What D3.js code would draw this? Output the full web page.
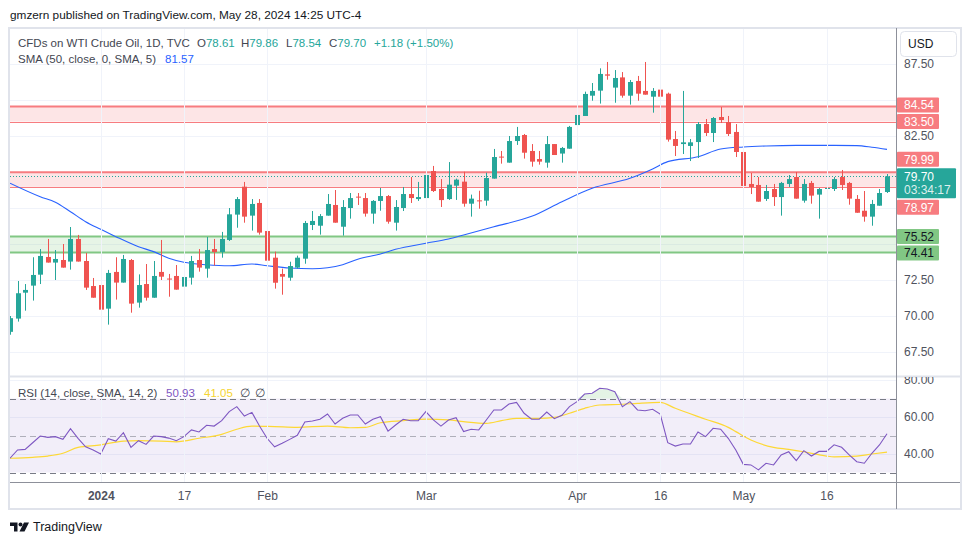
<!DOCTYPE html>
<html><head><meta charset="utf-8">
<script src="https://cdn.jsdelivr.net/npm/d3@7"></script>
<style>
body{margin:0;background:#fff}
svg{display:block}
text{font-family:"Liberation Sans",Arial,sans-serif}
</style>
</head><body>
<svg id="c" width="970" height="545"></svg>
<script>
// ---------------- DATA ----------------
const opens = [68.90,69.82,71.62,72.11,72.87,74.10,73.71,73.89,73.78,75.35,73.82,72.08,72.15,70.51,73.06,72.32,73.89,70.93,72.22,71.27,
73.06,72.60,72.78,72.04,72.66,73.89,73.29,74.65,74.44,75.28,77.04,78.98,76.97,77.85,75.90,74.05,72.92,72.66,73.36,73.98,
76.32,76.27,76.97,77.71,76.20,77.50,78.29,78.19,77.11,77.99,78.33,76.48,77.50,78.47,78.12,78.19,80.07,78.82,78.12,79.05,
79.33,77.80,78.03,78.01,79.54,81.07,80.65,82.15,82.57,81.46,80.90,80.65,81.94,81.28,81.62,83.26,83.89,85.30,85.65,86.78,
85.86,86.57,85.30,86.32,85.63,85.23,85.72,85.44,82.29,81.94,81.81,82.08,83.33,82.71,83.82,83.47,82.78,81.39,79.17,79.10,
78.13,78.82,78.26,79.17,79.65,78.01,79.24,78.43,78.84,78.82,79.65,79.24,78.13,77.31,76.90,77.66,78.61];
const highs = [70.00,72.43,72.22,74.08,74.65,75.35,74.58,75.00,76.18,75.63,74.38,72.64,73.61,73.20,74.08,74.24,73.96,72.89,73.61,73.82,
75.28,72.92,73.54,72.80,74.17,74.65,75.49,75.35,75.84,77.50,78.26,79.31,78.12,78.12,76.94,74.47,73.29,73.77,74.19,76.60,
77.29,77.08,78.47,78.75,78.05,78.54,78.54,78.54,78.05,78.89,78.40,78.05,78.96,79.65,79.31,80.83,80.42,79.51,80.69,79.54,
80.02,78.43,78.70,79.95,81.60,81.46,82.50,83.13,82.64,81.94,81.46,82.50,81.94,81.74,83.20,84.51,85.58,86.18,87.20,87.64,
87.08,86.94,86.39,86.67,87.64,85.83,86.18,85.51,82.85,85.63,82.29,83.47,83.68,83.82,84.51,83.89,83.33,81.60,79.93,79.65,
79.10,79.17,79.31,79.79,80.00,79.51,79.38,78.89,79.86,79.65,80.14,79.31,78.40,78.68,78.06,78.82,79.86];
const lows = [68.70,69.61,70.37,71.07,72.22,73.71,72.50,73.36,73.22,73.78,71.81,71.27,70.16,69.40,71.14,72.32,70.23,70.58,71.07,71.27,
72.50,71.34,71.83,70.72,72.18,73.08,72.66,73.50,74.05,75.21,76.13,76.48,75.93,75.65,73.77,71.90,71.48,72.45,73.29,73.63,
75.97,75.65,76.97,76.48,75.58,76.76,77.71,76.90,76.41,77.31,76.41,75.93,77.29,77.85,77.99,78.12,78.61,77.57,78.06,78.06,
77.59,76.90,77.45,77.66,79.54,80.58,80.65,81.88,80.93,80.37,80.51,80.30,81.18,80.65,81.62,82.71,83.89,84.95,84.75,86.41,
84.81,85.16,84.68,84.95,85.37,84.12,84.75,82.11,81.11,81.25,80.76,80.97,82.50,82.08,83.40,82.50,81.04,78.89,78.47,77.94,
77.99,77.64,76.97,78.96,78.15,77.87,77.80,76.76,78.29,78.68,78.75,77.73,77.17,76.55,76.27,77.66,78.54];
const closes = [69.85,71.58,71.81,72.85,74.17,73.71,73.96,73.36,75.35,73.78,71.97,71.27,70.44,72.99,72.32,73.96,70.86,72.15,71.27,72.78,
72.73,72.55,71.83,72.71,73.82,73.36,74.58,74.44,75.35,77.06,78.12,76.90,77.78,75.79,73.84,72.31,72.73,73.47,74.05,76.46,
76.60,76.94,77.78,76.48,77.57,78.19,78.24,77.11,77.99,78.33,76.55,77.57,78.47,78.19,78.26,79.79,78.68,78.05,79.12,79.47,
77.80,78.15,77.99,79.58,81.04,81.00,82.15,82.50,81.34,80.72,80.72,81.94,81.18,81.67,83.13,83.96,85.42,85.63,86.81,86.69,
86.53,85.30,86.25,85.44,85.37,85.63,85.23,82.25,81.81,82.06,82.06,83.33,82.71,83.75,83.61,82.64,81.39,79.03,78.96,77.94,
78.68,78.26,79.24,79.51,78.15,79.17,78.36,78.82,78.89,79.51,79.10,78.15,77.17,76.90,77.78,78.54,79.70];

// SMA(50) read at sample bars
const smaBars = [0,4,6,8,10,12,14,17,19,21,23,26,29,32,34,37,40,42,44,46,49,51,55,58,60,64,69,73,77,82,85,87,91,94,97,100,104,109,112,114,116];
const smaValues = [79.22,78.28,77.90,77.24,76.55,76.02,75.51,74.81,74.47,74.01,73.73,73.56,73.49,73.61,73.49,73.33,73.28,73.35,73.56,73.94,74.31,74.63,75.05,75.35,75.63,76.20,76.92,77.94,78.87,79.56,80.21,80.72,81.06,81.60,81.74,81.81,81.85,81.85,81.83,81.72,81.57];

// RSI(14) per bar
const rsiValues = [37.7,42.2,42.5,46.1,49.7,49.0,49.4,47.9,53.7,48.5,43.9,42.2,40.0,48.3,47.0,51.5,43.6,47.2,45.2,49.7,
49.4,48.6,47.2,49.4,53.0,51.9,55.5,55.1,58.0,62.9,65.6,60.5,62.5,55.1,48.5,43.9,45.8,47.9,50.1,57.3,
57.8,58.8,61.6,56.2,59.3,61.1,61.1,56.2,58.8,60.2,52.4,55.7,58.8,58.0,58.0,62.9,58.4,55.1,58.4,59.6,
52.1,53.4,53.0,58.4,63.8,63.8,67.0,67.9,62.0,58.8,58.8,62.7,59.1,60.9,65.6,68.3,72.4,72.8,75.5,75.1,
73.7,65.6,68.3,63.8,63.4,64.2,61.6,46.1,44.3,45.4,45.4,51.9,49.4,53.9,53.4,48.5,42.2,34.4,34.1,31.4,
35.0,34.1,39.5,41.2,36.4,41.8,38.9,41.4,41.4,45.0,43.6,39.5,35.8,35.0,40.4,44.9,50.93];

// RSI-based SMA(14) read at sample bars
const rsiMaBars = [0,3,5,7,9,12,15,17,20,22,25,28,30,32,35,38,42,45,47,49,52,55,58,60,63,65,67,70,72,74,76,78,81,83,86,88,92,95,96,98,101,103,105,108,109,112,114,116];
const rsiMaValues = [37.7,38.2,38.9,40.4,43.6,44.9,47.0,47.2,47.0,46.6,48.5,50.6,53.4,55.1,54.8,54.4,55.1,54.2,54.4,56.9,58.0,58.8,58.4,57.5,56.6,58.0,59.3,59.3,59.8,62.0,64.7,66.5,66.9,67.4,67.9,64.7,58.8,54.4,52.1,47.6,43.6,42.5,41.2,38.9,38.5,38.9,40.0,41.05];

const timeTickBars = [12,23,34,55,75,86,97,108];
const timeTickLabels = ["2024","17","Feb","Mar","Apr","16","May","16"];
const priceTicks = [87.5,85,82.5,80,77.5,75,72.5,70,67.5];
const rsiTicks = [80,60,40];
const rsiLevels = [70,50,30];

const resistanceZones = [[83.50,84.54],[78.97,79.99]];
const supportZones = [[74.41,75.52]];

const smaLast = 81.57, rsiLast = 50.93, rsiMaLast = 41.05;
const dayChange = 1.18, dayChangePct = 1.50;
const countdown = "03:34:17";

// ---------------- LAYOUT ----------------
const svg = d3.select("#c");
const L = 10, R = 896, AX = 960, T = 28, MB = 376, RT = 377, RB = 482, BB = 509;
const n = closes.length;
const x = d3.scaleLinear().domain([0, n-1]).range([10, 887]);
const yP = d3.scaleLinear().domain([67.5, 87.5]).range([352, 64]);
const yR = d3.scaleLinear().domain([40, 60]).range([454, 417]);
const up = "#26a69a", dn = "#ef5350";
const gridC = "#f0f3fa", textC = "#131722", axC = "#50535e";
const sx = v => Math.round(x(v)) + 0.5;
const sy = v => Math.round(v) + 0.5;
const FONT = '"Liberation Sans",Arial,sans-serif';

const defs = svg.append("defs");
const clip = (id, x0, y0, w, h) => defs.append("clipPath").attr("id", id).append("rect").attr("x", x0).attr("y", y0).attr("width", w).attr("height", h);
clip("cm", L, T, R-L, MB-T);
clip("cr", L, RT, R-L, RB-RT);
clip("cpa", R, T, AX-R, MB-T);
clip("cra", R, RT, AX-R, RB-RT);

// header
svg.append("text").attr("x", 10).attr("y", 19).attr("font-size", 11.8).attr("fill", textC)
  .text("gmzern published on TradingView.com, May 28, 2024 14:25 UTC-4");

// grid
const main = svg.append("g").attr("clip-path", "url(#cm)");
const rsiG = svg.append("g").attr("clip-path", "url(#cr)");
main.selectAll("line.hg").data(priceTicks).join("line")
  .attr("x1", L).attr("x2", R).attr("y1", d => sy(yP(d))).attr("y2", d => sy(yP(d)))
  .attr("stroke", gridC);
rsiG.selectAll("line.hg").data(rsiTicks).join("line")
  .attr("x1", L).attr("x2", R).attr("y1", d => sy(yR(d))).attr("y2", d => sy(yR(d)))
  .attr("stroke", gridC);
svg.append("g").selectAll("line").data(timeTickBars).join("line")
  .attr("x1", d => sx(d)).attr("x2", d => sx(d)).attr("y1", T).attr("y2", RB)
  .attr("stroke", gridC);

// zones
function zone(lo, hi, line, fill, botW) {
  main.append("rect").attr("x", L).attr("width", R-L).attr("y", yP(hi)).attr("height", yP(lo)-yP(hi)).attr("fill", fill);
  main.append("line").attr("x1", L).attr("x2", R).attr("y1", yP(hi)).attr("y2", yP(hi)).attr("stroke", line).attr("stroke-width", 2);
  main.append("line").attr("x1", L).attr("x2", R).attr("y1", sy(yP(lo))).attr("y2", sy(yP(lo))).attr("stroke", line).attr("stroke-width", botW);
}
const resLine = "#f77c80", resFill = "rgba(247,124,128,0.2)";
const supLine = "#81c784", supFill = "rgba(129,199,132,0.2)";
resistanceZones.forEach(z => zone(z[0], z[1], resLine, resFill, 1));
supportZones.forEach(z => zone(z[0], z[1], supLine, supFill, 2));

// current price dotted line
const last = closes[n-1];
main.append("line").attr("x1", L).attr("x2", R).attr("y1", sy(yP(last))).attr("y2", sy(yP(last)))
  .attr("stroke", up).attr("stroke-dasharray", "1,2");

// SMA line
const smaPts = smaBars.map((b, k) => [b, smaValues[k]]);
main.append("path").datum(smaPts)
  .attr("d", d3.line().x(d => x(d[0])).y(d => yP(d[1])).curve(d3.curveMonotoneX))
  .attr("fill", "none").attr("stroke", "#2962ff").attr("stroke-width", 1.1);

// candles
const bars = d3.range(n).map(i => ({i, o: opens[i], h: highs[i], l: lows[i], c: closes[i]}));
const cg = main.append("g");
cg.selectAll("line").data(bars).join("line")
  .attr("x1", d => sx(d.i)).attr("x2", d => sx(d.i))
  .attr("y1", d => yP(d.h)).attr("y2", d => yP(d.l))
  .attr("stroke", d => d.c >= d.o ? up : dn);
cg.selectAll("rect").data(bars).join("rect")
  .attr("x", d => Math.round(x(d.i)) - 2).attr("width", 5)
  .attr("y", d => yP(Math.max(d.o, d.c)))
  .attr("height", d => Math.max(1, Math.abs(yP(d.o) - yP(d.c))))
  .attr("fill", d => d.c >= d.o ? up : dn);

// RSI pane
rsiG.append("rect").attr("x", L).attr("width", R-L).attr("y", yR(70)).attr("height", yR(30)-yR(70))
  .attr("fill", "rgba(126,87,194,0.1)");
rsiG.selectAll("line.lv").data(rsiLevels).join("line")
  .attr("x1", L).attr("x2", R).attr("y1", d => sy(yR(d))).attr("y2", d => sy(yR(d)))
  .attr("stroke", d => d === 50 ? "rgba(120,123,134,0.55)" : "#787b86")
  .attr("stroke-dasharray", "6,4");
rsiG.append("path").datum(rsiValues)
  .attr("d", d3.area().x((d, i) => x(i)).y0(yR(70)).y1(d => yR(Math.max(d, 70))))
  .attr("fill", "rgba(76,175,80,0.15)");
rsiG.append("path").datum(rsiMaBars.map((b, k) => [b, rsiMaValues[k]]))
  .attr("d", d3.line().x(d => x(d[0])).y(d => yR(d[1])).curve(d3.curveMonotoneX))
  .attr("fill", "none").attr("stroke", "#fdd835").attr("stroke-width", 1.2);
rsiG.append("path").datum(rsiValues)
  .attr("d", d3.line().x((d, i) => x(i)).y(d => yR(d)))
  .attr("fill", "none").attr("stroke", "#7e57c2").attr("stroke-width", 1.1);

// frame lines
svg.append("rect").attr("x", 9).attr("y", 28).attr("width", AX-9+1).attr("height", BB-28)
  .attr("fill", "none").attr("stroke", "#e0e3eb").attr("stroke-width", 2);
svg.append("line").attr("x1", L).attr("x2", AX).attr("y1", MB+0.5).attr("y2", MB+0.5).attr("stroke", "#e0e3eb").attr("stroke-width", 2);
svg.append("line").attr("x1", R+0.5).attr("x2", R+0.5).attr("y1", T).attr("y2", BB).attr("stroke", "#8d909a");
svg.append("line").attr("x1", L).attr("x2", AX).attr("y1", RB+0.5).attr("y2", RB+0.5).attr("stroke", "#8d909a");

// price tags (laid out so they do not overlap)
const tagH = 15, gap = 1.5;
const curY = yP(last), curTop = curY - 8, curBot = curY + 22;
const tags = [];
resistanceZones.forEach(z => { tags.push({v: z[1], bg: resLine, fg: "#fff"}); tags.push({v: z[0], bg: resLine, fg: "#fff"}); });
supportZones.forEach(z => { tags.push({v: z[1], bg: supLine, fg: "#131722"}); tags.push({v: z[0], bg: supLine, fg: "#131722"}); });
const above = tags.filter(t => t.v > last).sort((a, b) => a.v - b.v);
const below = tags.filter(t => t.v < last).sort((a, b) => b.v - a.v);
let edge = curTop;
above.forEach(t => { t.cy = Math.min(yP(t.v), edge - gap - tagH/2); edge = t.cy - tagH/2; });
edge = curBot;
below.forEach(t => { t.cy = Math.max(yP(t.v), edge + gap + tagH/2); edge = t.cy + tagH/2; });
const boxes = tags.map(t => [t.cy - tagH/2, t.cy + tagH/2]).concat([[curTop, curBot], [31, 57]]);
const freeTick = v => boxes.every(b => yP(v) + 5 < b[0] || yP(v) - 5 > b[1]);

// price axis
const pa = svg.append("g").attr("clip-path", "url(#cpa)").append("g").attr("transform", `translate(${R},0)`)
  .call(d3.axisRight(yP).tickValues(priceTicks.filter(freeTick)).tickFormat(d3.format(".2f")).tickSize(0).tickPadding(8));
pa.select(".domain").remove();
pa.selectAll("text").attr("font-size", 12).attr("fill", axC).attr("font-family", FONT);

const ra = svg.append("g").attr("clip-path", "url(#cra)").append("g").attr("transform", `translate(${R},0)`)
  .call(d3.axisRight(yR).tickValues(rsiTicks).tickFormat(d3.format(".2f")).tickSize(0).tickPadding(8));
ra.select(".domain").remove();
ra.selectAll("text").attr("font-size", 12).attr("fill", axC).attr("font-family", FONT);

// time axis
const ta = svg.append("g").attr("transform", `translate(0,${RB})`)
  .call(d3.axisBottom(x).tickValues(timeTickBars).tickFormat((d, k) => timeTickLabels[k]).tickSize(0).tickPadding(9));
ta.select(".domain").remove();
ta.selectAll("text").attr("font-size", 12).attr("fill", axC).attr("font-family", FONT)
  .attr("font-weight", (d, k) => /^\d{4}$/.test(timeTickLabels[k]) ? "bold" : null);

// tags drawing
const tg = svg.append("g");
tags.forEach(t => {
  tg.append("rect").attr("x", R+1).attr("y", t.cy - tagH/2).attr("width", 42).attr("height", tagH).attr("fill", t.bg).attr("rx", 1);
  tg.append("text").attr("x", R+8).attr("y", t.cy).attr("dy", "0.35em").attr("font-size", 12).attr("fill", t.fg).text(t.v.toFixed(2));
});
tg.append("rect").attr("x", R+1).attr("y", curTop).attr("width", 59).attr("height", curBot-curTop).attr("fill", up).attr("rx", 1);
tg.append("text").attr("x", R+8).attr("y", curY).attr("dy", "0.35em").attr("font-size", 12).attr("fill", "#fff").text(last.toFixed(2));
tg.append("text").attr("x", R+8).attr("y", curY + 13).attr("dy", "0.35em").attr("font-size", 12).attr("fill", "rgba(255,255,255,0.85)").text(countdown);

// USD box
svg.append("rect").attr("x", 900.5).attr("y", 31.5).attr("width", 56).attr("height", 25).attr("rx", 4)
  .attr("fill", "#fff").attr("stroke", "#e0e3eb");
svg.append("text").attr("x", 908).attr("y", 44).attr("dy", "0.35em").attr("font-size", 12).attr("fill", textC).text("USD");

// legends
const lg = svg.append("text").attr("y", 43).attr("dy", "0.35em").attr("font-size", 11.5).attr("fill", "#434651");
lg.append("tspan").attr("x", 18).text("CFDs on WTI Crude Oil, 1D, TVC");
const ohlc = [["O", opens[n-1], 197], ["H", highs[n-1], 241], ["L", lows[n-1], 286], ["C", closes[n-1], 329]];
ohlc.forEach(o => { lg.append("tspan").attr("x", o[2]).text(o[0]); lg.append("tspan").attr("fill", up).text(o[1].toFixed(2)); });
lg.append("tspan").attr("x", 374).attr("fill", up).text(`+${dayChange.toFixed(2)} (+${dayChangePct.toFixed(2)}%)`);

const lg2 = svg.append("text").attr("y", 59).attr("dy", "0.35em").attr("font-size", 11.5).attr("fill", "#434651");
lg2.append("tspan").attr("x", 18).text("SMA (50, close, 0, SMA, 5)");
lg2.append("tspan").attr("x", 165).attr("fill", "#2962ff").text(smaLast.toFixed(2));

const lg3 = svg.append("text").attr("y", 393).attr("dy", "0.35em").attr("font-size", 11.5).attr("fill", "#434651");
lg3.append("tspan").attr("x", 18).text("RSI (14, close, SMA, 14, 2)");
lg3.append("tspan").attr("x", 166).attr("fill", "#7e57c2").text(rsiLast.toFixed(2));
lg3.append("tspan").attr("x", 204).attr("fill", "#f5d432").text(rsiMaLast.toFixed(2));
lg3.append("tspan").attr("x", 240).text("∅");
lg3.append("tspan").attr("x", 255).text("∅");

// TradingView logo
const logo = svg.append("g").attr("fill", "#131722");
logo.append("path").attr("d", "M10,522.5 h7.5 v9 h-3.5 v-5.5 h-4 z");
logo.append("circle").attr("cx", 20.5).attr("cy", 524.5).attr("r", 2);
logo.append("path").attr("d", "M24,522.5 h5 l-4.5,9 h-5 z");
svg.append("text").attr("x", 33).attr("y", 527).attr("dy", "0.35em").attr("font-size", 12.5).attr("fill", textC).text("TradingView");
</script>
</body></html>
